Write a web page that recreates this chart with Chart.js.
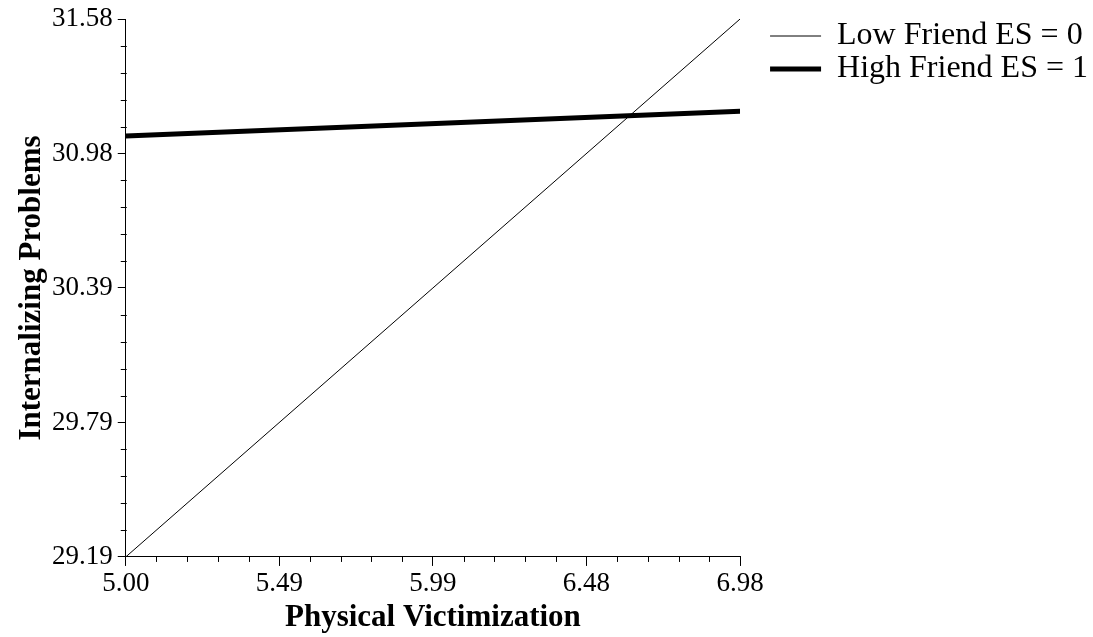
<!DOCTYPE html>
<html>
<head>
<meta charset="utf-8">
<script src="https://cdn.jsdelivr.net/npm/chart.js@4/dist/chart.umd.min.js"></script>
<style>
    html, body { margin: 0; padding: 0; background: #fff; }
    canvas { display: block; }
</style>
</head>
<body>
<canvas id="interactionChart" width="1093" height="637"></canvas>
<script>

// values
const xValues = [5.00, 6.98];
const lowFriendES = [29.19, 31.58];
const highFriendES = [31.06, 31.17];
const seriesNames = ['Low Friend ES = 0', 'High Friend ES = 1'];

const xRange = [5.00, 6.98];
const yRange = [29.19, 31.58];
const xTickLabels = ['5.00', '5.49', '5.99', '6.48', '6.98'];
const yTickLabels = ['29.19', '29.79', '30.39', '30.98', '31.58'];
const minorPerMajor = 5;

const serif = "'Liberation Serif', 'Times New Roman', serif";
Chart.defaults.color = '#000';
Chart.defaults.font.family = serif;

// even ticks between the axis limits, labels only on every 5th one
function evenTicks(range, labels) {
    return scale => {
        let n = (labels.length - 1) * minorPerMajor;
        scale.ticks = [];
        for (let i = 0; i <= n; i++) {
            scale.ticks.push({ value: range[0] + (range[1] - range[0]) * i / n });
        }
    };
}
const tickText = labels => (v, i) => i % minorPerMajor === 0 ? labels[i / minorPerMajor] : '';
const majorOnly = ctx => ctx.index % minorPerMajor === 0 ? '#000' : 'rgba(0,0,0,0)';

// short minor ticks, the long ones come from the grid options
const minorTicks = {
    id: 'minorTicks',
    afterDraw(chart) {
        let { ctx, scales: { x, y } } = chart;
        ctx.save();
        ctx.strokeStyle = '#000';
        ctx.lineWidth = 1;
        ctx.beginPath();
        x.ticks.forEach((t, i) => {
            if (i % minorPerMajor === 0) return;
            let px = Math.round(x.getPixelForValue(t.value)) + 0.5;
            ctx.moveTo(px, x.top);
            ctx.lineTo(px, x.top + 5);
        });
        y.ticks.forEach((t, i) => {
            if (i % minorPerMajor === 0) return;
            let py = Math.round(y.getPixelForValue(t.value)) + 0.5;
            ctx.moveTo(y.right - 5, py);
            ctx.lineTo(y.right + 1, py);
        });
        ctx.stroke();
        ctx.restore();
    }
};

new Chart(document.getElementById('interactionChart'), {
    type: 'line',
    data: {
        datasets: [{
            label: seriesNames[0],
            data: xValues.map((x, i) => ({ x: x, y: lowFriendES[i] })),
            borderColor: '#000',
            borderWidth: 1,
            pointRadius: 0,
            tension: 0,
        }, {
            label: seriesNames[1],
            data: xValues.map((x, i) => ({ x: x, y: highFriendES[i] })),
            borderColor: '#000',
            borderWidth: 5,
            pointRadius: 0,
            tension: 0,
        }]
    },
    options: {
        responsive: false,
        animation: false,
        layout: { padding: { left: 16, right: -5, top: 19, bottom: 0 } },
        plugins: {
            tooltip: { enabled: false },
            legend: {
                position: 'right',
                align: 'start',
                maxWidth: 400,
                labels: {
                    usePointStyle: true,
                    pointStyle: 'line',
                    pointStyleWidth: 51,
                    padding: 1,
                    font: { size: 32, family: serif },
                },
            },
        },
        scales: {
            x: {
                type: 'linear',
                min: xRange[0],
                max: xRange[1],
                afterBuildTicks: evenTicks(xRange, xTickLabels),
                ticks: {
                    callback: tickText(xTickLabels),
                    autoSkip: false,
                    maxRotation: 0,
                    padding: 2,
                    font: { size: 27, lineHeight: 1.15 },
                },
                grid: { drawOnChartArea: false, tickLength: 9, tickColor: majorOnly },
                border: { color: '#000', width: 1 },
                title: {
                    display: true,
                    text: 'Physical Victimization',
                    font: { size: 31, weight: 'bold', lineHeight: 1 },
                    padding: { top: 1, bottom: 4 },
                },
            },
            y: {
                type: 'linear',
                min: yRange[0],
                max: yRange[1],
                afterBuildTicks: evenTicks(yRange, yTickLabels),
                ticks: {
                    callback: tickText(yTickLabels),
                    autoSkip: false,
                    padding: 5,
                    font: { size: 27, lineHeight: 1.0 },
                },
                grid: { drawOnChartArea: false, tickLength: 8, tickColor: majorOnly },
                border: { color: '#000', width: 1 },
                title: {
                    display: true,
                    text: 'Internalizing Problems',
                    font: { size: 31, weight: 'bold', lineHeight: 1 },
                    padding: { top: 0, bottom: 0 },
                },
            },
            // empty strip between the plot and the legend
            gap: {
                type: 'linear',
                position: 'right',
                grid: { display: false },
                border: { display: false },
                ticks: { display: false },
                afterFit: s => { s.width = 29; },
            },
        },
    },
    plugins: [minorTicks],
});

</script>
</body>
</html>
